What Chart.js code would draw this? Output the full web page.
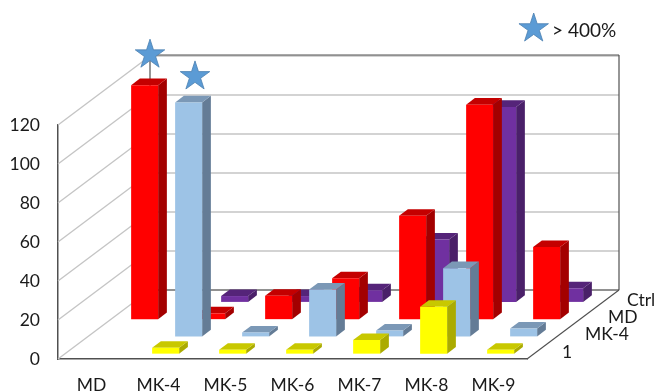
<!DOCTYPE html>
<html lang="en">
<head>
    <meta charset="UTF-8">
    <title>3D Column Chart</title>
    <script src="https://cdn.jsdelivr.net/npm/chart.js"></script>
    <style>
        html, body { margin: 0; padding: 0; background: #fff; }
        canvas { display: block; }
    </style>
</head>
<body>
    <canvas id="myChart" width="655" height="392"></canvas>

    <script>
        const categories = ['MD', 'MK-4', 'MK-5', 'MK-6', 'MK-7', 'MK-8', 'MK-9'];
        const rowLabels = ['1', 'MK-4', 'MD', 'Ctrl'];
        const yTicks = [0, 20, 40, 60, 80, 100, 120];

        // one list per depth row, front row first
        const rowOne = [null, 3, 2, 2, 7, 24, 2];
        const rowMK4 = [null, 120, 2, 24, 3, 35, 4];
        const rowMD = [120, 3, 12, 21, 53, 110, 37];
        const rowCtrl = [null, 3, 3, 6, 32, 100, 7];

        // bars that run off the axis and carry a star: row index, category index
        const starRows = [2, 1];
        const starCategories = [0, 1];
        const legendText = '> 400%';

        const FONT_FAMILY = 'Lato, "Open Sans", sans-serif';
        const DEPTH_X = 92;
        const DEPTH_Y = 69;
        const BAR_DEPTH = 0.38; // share of one row's depth taken by a bar
        const starLift = [30.5, 26];
        const starNudge = [1, 2];
        const rowLabelShift = [0, 0, 0, -4];

        const faces = [
            { front: '#ffff00', top: '#c8c800', side: '#abab00' },
            { front: '#9dc3e6', top: '#7b98b6', side: '#647c96' },
            { front: '#ff0000', top: '#c40000', side: '#a30000' },
            { front: '#7030a0', top: '#552479', side: '#4a2069' }
        ];

        // horizontal and vertical shift of the front of a bar in a given row
        function rowOffset(row) {
            const t = (row + 0.5 - BAR_DEPTH / 2) / rowLabels.length;
            return { dx: t * DEPTH_X, dy: t * DEPTH_Y };
        }

        function polygon(ctx, points, color) {
            ctx.fillStyle = color;
            ctx.beginPath();
            points.forEach((p, i) => (i ? ctx.lineTo(p[0], p[1]) : ctx.moveTo(p[0], p[1])));
            ctx.closePath();
            ctx.fill();
        }

        function drawStar(ctx, cx, cy) {
            const outer = 15.5;
            const inner = outer * 0.382;
            ctx.beginPath();
            for (let i = 0; i < 10; i++) {
                const r = i % 2 ? inner : outer;
                const a = -Math.PI / 2 + i * Math.PI / 5;
                ctx.lineTo(cx + r * Math.cos(a), cy + r * Math.sin(a));
            }
            ctx.closePath();
            ctx.fillStyle = '#5b9bd5';
            ctx.fill();
            ctx.strokeStyle = '#4a7fb0';
            ctx.lineWidth = 0.8;
            ctx.stroke();
        }

        function line(ctx, x1, y1, x2, y2, color, width) {
            ctx.strokeStyle = color;
            ctx.lineWidth = width;
            ctx.beginPath();
            ctx.moveTo(x1, y1);
            ctx.lineTo(x2, y2);
            ctx.stroke();
        }

        const walls = {
            id: 'walls',
            beforeDatasetsDraw(chart) {
                const { ctx, scales: { x, y } } = chart;
                const light = '#c4c4c4';
                const dark = '#505050';
                ctx.save();
                y.ticks.forEach(tick => {
                    const py = y.getPixelForValue(tick.value);
                    line(ctx, x.left, py, x.left + DEPTH_X, py - DEPTH_Y, light, 1.3);
                    line(ctx, x.left + DEPTH_X, py - DEPTH_Y, x.right + DEPTH_X, py - DEPTH_Y, light, 1.5);
                });
                const top = y.getPixelForValue(120) - DEPTH_Y;
                const floor = y.getPixelForValue(0) - DEPTH_Y;
                line(ctx, x.left + DEPTH_X, top - 1, x.right + DEPTH_X, top - 1, dark, 1);
                line(ctx, x.left + DEPTH_X, floor, x.right + DEPTH_X, floor, dark, 1.2);
                line(ctx, x.left + DEPTH_X, top, x.left + DEPTH_X, floor, dark, 1.2);
                line(ctx, x.right + DEPTH_X, top - 1, x.right + DEPTH_X, floor, dark, 1.2);
                line(ctx, x.right, y.bottom, x.right + DEPTH_X, floor, dark, 1.2);
                ctx.restore();
            }
        };

        const bars3d = {
            id: 'bars3d',
            // each bar is drawn as a box, so the flat one from the library is skipped
            beforeDatasetDraw(chart, args) {
                const { ctx } = chart;
                const row = args.index;
                const values = chart.data.datasets[row].data;
                const { dx, dy } = rowOffset(row);
                const rowDepth = BAR_DEPTH / rowLabels.length;
                const bx = rowDepth * DEPTH_X;
                const by = rowDepth * DEPTH_Y;
                const face = faces[row];
                ctx.save();
                args.meta.data.forEach((bar, i) => {
                    if (values[i] === null) return;
                    const l = bar.x - bar.width / 2 + dx;
                    const r = l + bar.width;
                    const t = bar.y - dy;
                    const b = bar.base - dy;
                    polygon(ctx, [[r, t], [r + bx, t - by], [r + bx, b - by], [r, b]], face.side);
                    polygon(ctx, [[l, t], [l + bx, t - by], [r + bx, t - by], [r, t]], face.top);
                    polygon(ctx, [[l, t], [r, t], [r, b], [l, b]], face.front);
                });
                ctx.restore();
                return false;
            },
            afterDatasetsDraw(chart) {
                const { ctx, scales: { x, y } } = chart;
                ctx.save();
                starRows.forEach((row, i) => {
                    const cat = starCategories[i];
                    const bar = chart.getDatasetMeta(row).data[cat];
                    const { dx, dy } = rowOffset(row);
                    const cx = bar.x + dx + BAR_DEPTH / rowLabels.length * DEPTH_X / 2 + starNudge[i];
                    drawStar(ctx, cx, bar.y - dy - starLift[i]);
                });
                drawStar(ctx, 533.7, 28.5);

                ctx.fillStyle = '#1a1a1a';
                ctx.textBaseline = 'middle';
                ctx.textAlign = 'left';
                ctx.font = '19px ' + FONT_FAMILY;
                ctx.fillText(legendText, 552, 31);

                // depth axis labels follow the right hand floor edge
                ctx.font = '17.5px ' + FONT_FAMILY;
                rowLabels.forEach((label, row) => {
                    const t = (row + 0.5) / rowLabels.length;
                    const px = x.right + t * DEPTH_X + 23.5 + rowLabelShift[row];
                    const py = y.bottom - t * DEPTH_Y + 1.5;
                    ctx.fillText(label, px, py);
                });
                ctx.restore();
            }
        };

        const ctx = document.getElementById('myChart').getContext('2d');
        new Chart(ctx, {
            type: 'bar',
            data: {
                labels: categories,
                datasets: rowLabels.map((label, i) => ({
                    label,
                    data: [rowOne, rowMK4, rowMD, rowCtrl][i],
                    backgroundColor: faces[i].front
                }))
            },
            plugins: [walls, bars3d],
            options: {
                responsive: false,
                animation: false,
                layout: { padding: { top: 125, right: 128, left: 0, bottom: 0 } },
                plugins: { legend: { display: false }, tooltip: { enabled: false } },
                datasets: { bar: { grouped: false, barThickness: 27 } },
                scales: {
                    x: {
                        grid: { display: false, drawTicks: false },
                        border: { display: true, color: '#505050', width: 1.5 },
                        ticks: { color: '#1a1a1a', font: { family: FONT_FAMILY, size: 17.5 }, padding: 16, maxRotation: 0 },
                        afterFit(scale) { scale.height = 33; }
                    },
                    y: {
                        min: 0,
                        max: 120,
                        afterBuildTicks(scale) { scale.ticks = yTicks.map(value => ({ value })); },
                        grid: { display: false, drawTicks: false },
                        border: { display: true, color: '#505050', width: 1.5 },
                        ticks: { color: '#1a1a1a', font: { family: FONT_FAMILY, size: 17.5 }, padding: 18 },
                        afterFit(scale) { scale.width = 58; }
                    }
                }
            }
        });
    </script>
</body>
</html>
